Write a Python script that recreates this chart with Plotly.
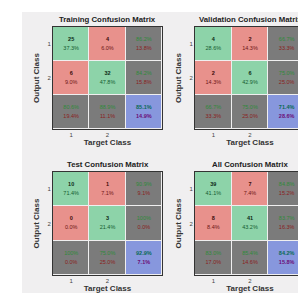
import plotly.graph_objects as go

titles = ["Training Confusion Matrix", "Validation Confusion Matrix",
          "Test Confusion Matrix", "All Confusion Matrix"]
class_labels = ["1", "2"]
# counts[row=output class][col=target class]
training_counts = [[25, 4], [6, 32]]
validation_counts = [[4, 2], [2, 6]]
test_counts = [[10, 1], [0, 3]]
all_counts = [[39, 7], [8, 41]]
matrices = [training_counts, validation_counts, test_counts, all_counts]

W, H = 306, 293
# panel pixel boxes (x0, x1, y0, y1)
boxes = [(45, 154, 19, 121), (187, 297, 19, 121),
         (45, 154, 164, 267), (187, 297, 164, 267)]

GREEN = "#8dd3a9"
RED = "#e8918c"
GRAY = "#7b7b7b"
BLUE = "#8797dd"
colorscale = [[0, GREEN], [0.25, GREEN], [0.25, RED], [0.5, RED],
              [0.5, GRAY], [0.75, GRAY], [0.75, BLUE], [1, BLUE]]

def pct(v):
    s = f"{v:.1f}%"
    if s == "100.0%":
        s = "100%"
    return s

fig = go.Figure()
for i, (m, title, box) in enumerate(zip(matrices, titles, boxes)):
    ax = "" if i == 0 else str(i + 1)
    total = sum(sum(r) for r in m)
    z = [[0, 1, 2], [1, 0, 2], [2, 2, 3]]
    fig.add_trace(go.Heatmap(z=z, x=[0, 1, 2], y=[0, 1, 2], colorscale=colorscale,
                             zmin=0, zmax=3, showscale=False, xgap=1, ygap=1,
                             hoverinfo="skip", xaxis="x" + ax, yaxis="y" + ax))
    xs, ys, texts, colors = [], [], [], []
    for r in range(2):
        for c in range(2):
            v = m[r][c]
            diag = r == c
            col = "#145c30" if diag else "#6e1616"
            xs += [c, c]
            ys += [r - 0.13, r + 0.13]
            texts += [f"<b>{v}</b>", pct(100 * v / total)]
            colors += ["#0c2a16" if diag else "#3a0a0a", col]
    # row summaries (right column)
    for r in range(2):
        rs = sum(m[r])
        acc = 100 * m[r][r] / rs
        xs += [2, 2]; ys += [r - 0.13, r + 0.13]
        texts += [pct(acc), pct(100 - acc)]
        colors += ["#2f8a3a", "#8a1e1e"]
    # column summaries (bottom row)
    for c in range(2):
        cs = m[0][c] + m[1][c]
        acc = 100 * m[c][c] / cs
        xs += [c, c]; ys += [2 - 0.13, 2 + 0.13]
        texts += [pct(acc), pct(100 - acc)]
        colors += ["#2f8a3a", "#8a1e1e"]
    acc = 100 * (m[0][0] + m[1][1]) / total
    xs += [2, 2]; ys += [2 - 0.13, 2 + 0.13]
    texts += [f"<b>{pct(acc)}</b>", f"<b>{pct(100 - acc)}</b>"]
    colors += ["#0b6a55", "#6b0d78"]
    fig.add_trace(go.Scatter(x=xs, y=ys, mode="text", text=texts,
                             textfont=dict(size=5.5, color=colors, family="Liberation Sans"),
                             hoverinfo="skip", showlegend=False,
                             xaxis="x" + ax, yaxis="y" + ax))
    x0, x1, y0, y1 = box
    xd = [x0 / W, x1 / W]
    yd = [1 - y1 / H, 1 - y0 / H]
    fig.update_layout(**{
        "xaxis" + ax: dict(domain=xd, range=[-0.5, 2.5], tickvals=[0, 1],
                           ticktext=class_labels, ticks="", showgrid=False, zeroline=False,
                           showline=True, mirror=True, linecolor="#333333", linewidth=1,
                           tickfont=dict(size=6, color="#444"), anchor="y" + ax,
                           title=dict(text="<b>Target Class</b>", font=dict(size=8, color="#333"),
                                      standoff=2), fixedrange=True),
        "yaxis" + ax: dict(domain=yd, range=[2.5, -0.5], tickvals=[0, 1],
                           ticktext=class_labels, ticks="", showgrid=False, zeroline=False,
                           showline=True, mirror=True, linecolor="#333333", linewidth=1,
                           tickfont=dict(size=6, color="#444"), anchor="x" + ax,
                           title=dict(text="<b>Output Class</b>", font=dict(size=8, color="#333"),
                                      standoff=6), fixedrange=True),
    })
    fig.add_annotation(text=f"<b>{title}</b>", x=(x0 + x1) / 2 / W, y=1 - (y0 - 1) / H,
                       xref="paper", yref="paper", showarrow=False, yanchor="bottom",
                       xanchor="center", font=dict(size=7.8, color="#222"))

fig.add_shape(type="rect", xref="paper", yref="paper", x0=14 / W, x1=300 / W,
              y0=1 - 289 / H, y1=1 - 4 / H, fillcolor="#f0eff0", line=dict(width=0),
              layer="below")
fig.update_layout(width=W, height=H, margin=dict(l=0, r=0, t=0, b=0),
                  paper_bgcolor="white", plot_bgcolor="#3a3a3a", showlegend=False,
                  font=dict(family="Liberation Sans"))
fig.write_html("out.html", config={"displayModeBar": False})
